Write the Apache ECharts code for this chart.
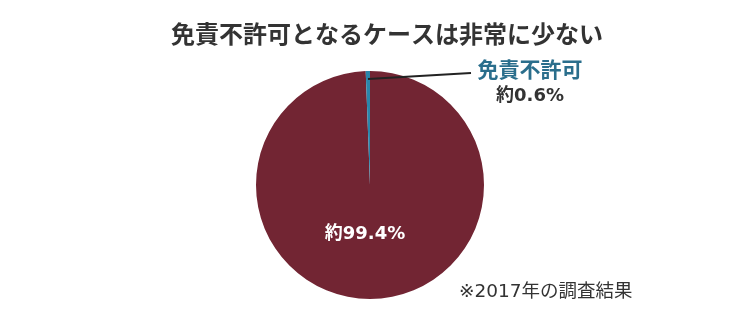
<!DOCTYPE html>
<html><head><meta charset="utf-8">
<script src="https://cdn.jsdelivr.net/npm/echarts@6/dist/echarts.min.js"></script>
<style>html,body{margin:0;padding:0;background:#fff}#c{width:750px;height:322px}</style>
</head><body><div id="c"></div>
<script>
const titleText = '免責不許可となるケースは非常に少ない';
const categories = ['許可', '免責不許可'];
const values = [99.4, 0.6];
const labelTexts = ['約99.4%', '約0.6%'];
const noteText = '※2017年の調査結果';
const colors = ['#722533', '#2a86ab'];

const CX = 370, CY = 185, R = 114;
const chart = echarts.init(document.getElementById('c'), null, {renderer: 'canvas'});
const FONT = '"DejaVu Sans","Noto Sans CJK JP",sans-serif';

// start point of the leader line: inside the small slice, at its mid angle
const total = values.reduce((a, b) => a + b, 0);
const midAngle = (90 + (values[1] / total) * 360 / 2) * Math.PI / 180;
const lx = CX + R * 0.93 * Math.cos(midAngle);
const ly = CY - R * 0.93 * Math.sin(midAngle);

chart.setOption({
  animation: false,
  title: {
    text: titleText, left: 166, top: 17,
    textStyle: {fontSize: 24, fontWeight: 'bold', color: '#333333', fontFamily: '"Noto Sans CJK JP",sans-serif'}
  },
  graphic: [{
    type: 'text', left: 459, top: 283,
    style: {text: noteText, fontSize: 18.5, fill: '#333333', fontFamily: FONT}
  }, {
    type: 'line', z: 100,
    shape: {x1: lx, y1: ly, x2: 471, y2: 73},
    style: {stroke: '#222222', lineWidth: 2}
  }],
  series: [{
    type: 'pie',
    center: [CX, CY],
    radius: R,
    startAngle: 90,
    clockwise: true,
    data: categories.map((c, i) => ({
      name: c, value: values[i],
      itemStyle: {color: colors[i]},
      label: i === 0 ? {
        show: true, position: 'inside',
        formatter: labelTexts[i],
        fontSize: 18, fontWeight: 'bold', color: '#ffffff', fontFamily: FONT
      } : {
        show: true, position: 'outside',
        formatter: '{a|' + c + '}\n{b|' + labelTexts[i] + '}',
        align: 'center',
        rich: {
          a: {fontSize: 21, fontWeight: 'bold', color: '#2a6e8c', fontFamily: FONT, lineHeight: 24, align: 'center'},
          b: {fontSize: 18, fontWeight: 'bold', color: '#333333', fontFamily: FONT, lineHeight: 24, align: 'center'}
        }
      },
      labelLine: {show: false}
    })),
    labelLayout: function (p) {
      if (p.dataIndex === 0) return {x: 365, y: 234, align: 'center', verticalAlign: 'middle'};
      return {x: 530, y: 84, align: 'center', verticalAlign: 'middle'};
    }
  }]
});
</script></body></html>
